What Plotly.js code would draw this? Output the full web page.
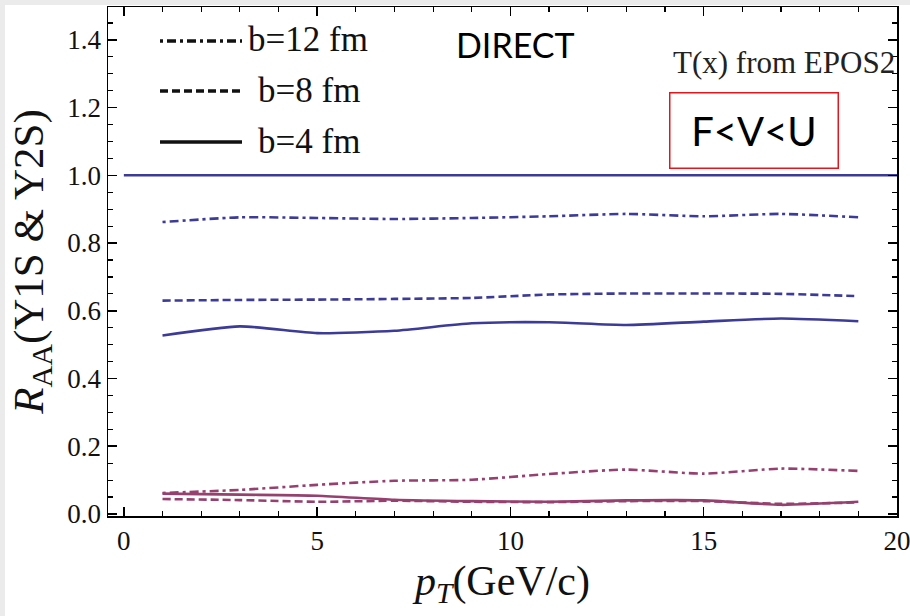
<!DOCTYPE html>
<html>
<head>
<meta charset="utf-8">
<script src="https://cdn.plot.ly/plotly-3.0.1.min.js"></script>
<style>html,body{margin:0;padding:0;background:#fff;}#chart{width:910px;height:616px;}</style>
</head>
<body>
<div id="chart"></div>
<script>
// ---- data ----
const pT = [1, 3, 5, 7, 9, 11, 13, 15, 17, 19];
const refX = [0, 20];
const refY = [1, 1];

// Upper (blue) set
const blueB12 = [0.862, 0.876, 0.874, 0.871, 0.874, 0.879, 0.886, 0.879, 0.886, 0.876];
const blueB8  = [0.630, 0.632, 0.633, 0.635, 0.638, 0.648, 0.651, 0.651, 0.650, 0.643];
const blueB4  = [0.527, 0.554, 0.534, 0.541, 0.563, 0.566, 0.558, 0.568, 0.577, 0.569];

// Lower (purple) set
const purpB12 = [0.062, 0.071, 0.086, 0.098, 0.101, 0.118, 0.131, 0.119, 0.134, 0.127];
const purpB8  = [0.044, 0.041, 0.036, 0.039, 0.036, 0.035, 0.038, 0.038, 0.030, 0.034];
const purpB4  = [0.060, 0.057, 0.054, 0.042, 0.038, 0.036, 0.040, 0.040, 0.027, 0.036];

const legendLabels = ["b=12 fm", "b=8 fm", "b=4 fm"];
const xTickVals = [0, 5, 10, 15, 20];
const yTickVals = [0.0, 0.2, 0.4, 0.6, 0.8, 1.0, 1.2, 1.4];
const yTickText = ["0.0", "0.2", "0.4", "0.6", "0.8", "1.0", "1.2", "1.4"];

// ---- styles ----
const BLUE = "#3d3b98";
const PURP = "#96406f";
const DASHDOT = "3px,4px,9px,4px";
const DASH = "8px,4px";
const SERIF = "Times New Roman, Liberation Serif, serif";
const SANS = "Lato, Open Sans, sans-serif";

function tr(x, y, color, dash, name) {
  return {x: x, y: y, type: "scatter", mode: "lines", name: name, showlegend: false,
    hoverinfo: "x+y",
    line: {color: color, width: 2.6, dash: dash, shape: "spline", smoothing: 0.6}};
}

const data = [
  {x: refX, y: refY, type: "scatter", mode: "lines", showlegend: false,
   line: {color: BLUE, width: 2.6}},
  tr(pT, blueB12, BLUE, DASHDOT, "b=12 fm"),
  tr(pT, blueB8, BLUE, DASH, "b=8 fm"),
  tr(pT, blueB4, BLUE, "solid", "b=4 fm"),
  tr(pT, purpB12, PURP, DASHDOT, "b=12 fm"),
  tr(pT, purpB8, PURP, DASH, "b=8 fm"),
  tr(pT, purpB4, PURP, "solid", "b=4 fm")
];

// plot-area geometry helpers (paper coordinates)
const L = 108, R = 13, T = 7, B = 100, W = 910, H = 616;
const PW = W - L - R, PH = H - T - B;
const px = v => (v - L) / PW;
const py = v => (H - B - v) / PH;

const legDash = [DASHDOT, DASH, "solid"];
const legY = [41, 91, 142];
const legTextX = [246, 256, 256];
const shapes = [
  // light gray frame strips (screenshot border)
  {type: "rect", xref: "paper", yref: "paper", x0: px(0), x1: px(5), y0: py(616), y1: py(0),
   fillcolor: "#ebebeb", line: {width: 0}},
  {type: "rect", xref: "paper", yref: "paper", x0: px(0), x1: px(910), y0: py(5), y1: py(0),
   fillcolor: "#ebebeb", line: {width: 0}}
];
const annotations = [];
legendLabels.forEach((lab, i) => {
  shapes.push({type: "line", xref: "paper", yref: "paper", x0: px(160), x1: px(242),
    y0: py(legY[i]), y1: py(legY[i]), line: {color: "#111", width: 3.6, dash: legDash[i]}});
  annotations.push({xref: "paper", yref: "paper", x: px(legTextX[i]), y: py(legY[i] - 1),
    xanchor: "left", yanchor: "middle", showarrow: false, text: lab,
    font: {family: SERIF, size: 35, color: "#111"}});
});
annotations.push({xref: "paper", yref: "paper", x: px(515), y: py(45), xanchor: "center", yanchor: "middle",
  showarrow: false, text: "DIRECT", font: {family: SANS, size: 34, color: "#000"}});
annotations.push({xref: "paper", yref: "paper", x: px(897), y: py(63), xanchor: "right", yanchor: "middle",
  showarrow: false, text: "T(x) from EPOS2", font: {family: SERIF, size: 31, color: "#222"}});
annotations.push({xref: "paper", yref: "paper", x: px(753.5), y: py(130), xanchor: "center", yanchor: "middle",
  showarrow: false, text: "F&lt;V&lt;U", font: {family: SANS, size: 40, color: "#000"},
  width: 163, height: 70, borderpad: 2, borderwidth: 1.5, bordercolor: "#e8141c", bgcolor: "#fff"});

function axisBase() {
  return {
    showgrid: false, zeroline: false, showline: true, linecolor: "#000", linewidth: 1.5,
    mirror: "ticks", ticks: "inside", ticklen: 9, tickwidth: 1.5, tickcolor: "#000",
    ticklabeloverflow: "allow",
    tickfont: {family: SERIF, size: 27, color: "#111"}
  };
}

const xaxis = axisBase();
Object.assign(xaxis, {
  range: [-0.41, 20.0], tickmode: "array", tickvals: xTickVals,
  minor: {dtick: 1, ticks: "inside", ticklen: 5, tickwidth: 1.2, tickcolor: "#000"},
  title: {text: "<i>p</i><sub><i>T</i></sub>(GeV/c)", font: {family: SERIF, size: 42, color: "#111"}, standoff: 10}
});
const yaxis = axisBase();
Object.assign(yaxis, {
  range: [-0.006, 1.497], tickmode: "array", tickvals: yTickVals, ticktext: yTickText,
  minor: {dtick: 0.05, ticks: "inside", ticklen: 5, tickwidth: 1.2, tickcolor: "#000"},
  title: {text: "<i>R</i><sub>AA</sub>(Y1S &amp; Y2S)", font: {family: SERIF, size: 43, color: "#111"}, standoff: 10}
});

const layout = {
  width: W, height: H,
  margin: {l: L, r: R, t: T, b: B},
  font: {family: SERIF, color: "#111"},
  paper_bgcolor: "#fff", plot_bgcolor: "#fff",
  showlegend: false,
  xaxis: xaxis,
  yaxis: yaxis,
  shapes: shapes,
  annotations: annotations
};

Plotly.newPlot("chart", data, layout, {displayModeBar: false, staticPlot: true});
</script>
</body>
</html>
